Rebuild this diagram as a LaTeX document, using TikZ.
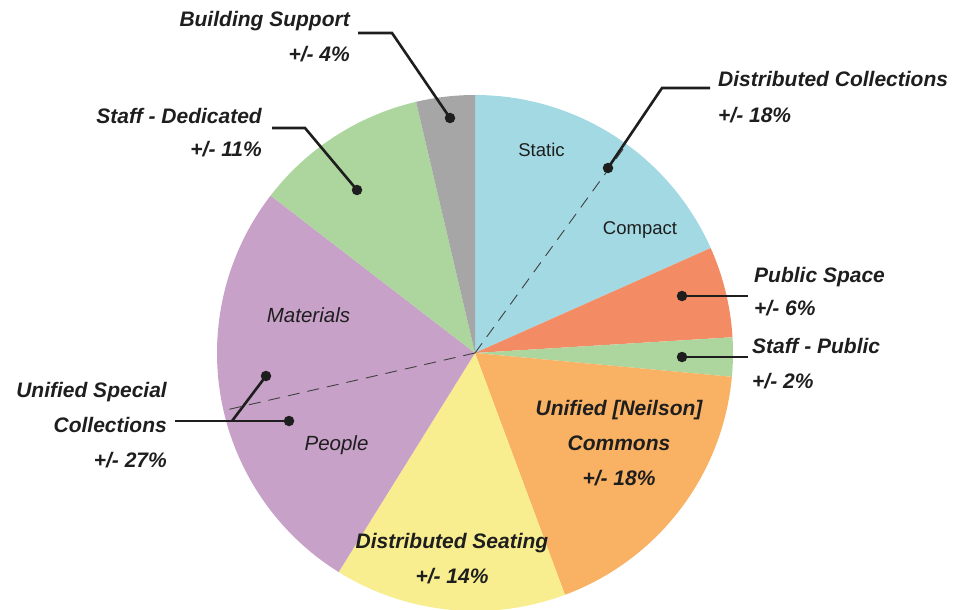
\documentclass[tikz,border=0pt]{standalone}
\usepackage{fontspec}
\setmainfont{Liberation Sans}
\usetikzlibrary{calc}
\definecolor{cblue}{HTML}{A2D9E3}
\definecolor{cgray}{HTML}{A6A6A6}
\definecolor{cgreen}{HTML}{ADD59E}
\definecolor{cpurple}{HTML}{C8A1C8}
\definecolor{cyellow}{HTML}{F8EE8F}
\definecolor{corange}{HTML}{F9B263}
\definecolor{csalmon}{HTML}{F38B64}
\definecolor{ink}{HTML}{1E1E1E}
\newcommand\pieslice[3]{\fill[#3] (C) -- ++(#1:258) arc[start angle=#1,end angle=#2,radius=258] -- cycle;}
\begin{document}
\begin{tikzpicture}[x=1pt,y=-1pt,
  lab/.style={inner sep=0pt,text=ink,font=\fontsize{21}{24}\selectfont\bfseries\itshape},
  inlab/.style={inner sep=0pt,text=ink,font=\fontsize{18.5}{22}\selectfont},
  inlabi/.style={inner sep=0pt,text=ink,font=\fontsize{20.5}{24}\selectfont\itshape},
  lead/.style={draw=ink,line width=2.6pt},
  dot/.style={circle,fill=ink,inner sep=0pt,minimum size=10.5pt},
  divide/.style={draw=ink!85,line width=0.9pt,dash pattern=on 12pt off 8pt}]
\useasboundingbox (0,0) rectangle (962,610);
\coordinate (C) at (475,353);
% slices
\pieslice{-90}{-24}{cblue}
\pieslice{-24}{-3.5}{csalmon}
\pieslice{-3.5}{5.3}{cgreen}
\pieslice{5.3}{69.6}{corange}
\pieslice{69.6}{121.9}{cyellow}
\pieslice{121.9}{217.6}{cpurple}
\pieslice{217.6}{256.8}{cgreen}
\pieslice{256.8}{270}{cgray}
% dashed dividers
\coordinate (dv1) at ($(C)+(-54:258)$);
\coordinate (dv2) at ($(C)+(167.1:256)$);
\draw[divide] (C) -- (dv1);
\draw[divide] (C) -- (dv2);
% inner labels
\node[inlab,anchor=base] (static) at (541.5,157) {Static};
\node[inlab,anchor=base] (compact) at (640,234) {Compact};
\node[inlabi,anchor=base] (materials) at (308.5,322) {Materials};
\node[inlabi,anchor=base] (people) at (336.5,450) {People};
% dot positions
\coordinate (pBS) at (450,118);
\coordinate (pSD) at (357,190);
\coordinate (pDC) at (608,168);
\coordinate (pPS) at (682,296);
\coordinate (pSP) at (682,357);
\coordinate (pM) at (266,376);
\coordinate (pP) at (289,421);
% bends
\coordinate (kBS) at (392,33);
\coordinate (eBS) at (358,33);
\coordinate (kSD) at (305,128);
\coordinate (eSD) at (272,128);
\coordinate (kDC) at (662,88);
\coordinate (eDC) at (710,88);
\coordinate (ePS) at (748,296);
\coordinate (eSP) at (748,357);
\coordinate (eUS) at (175,421);
\coordinate (kUS) at (232,421);
\draw[lead] (pBS) -- (kBS) -- (eBS);
\draw[lead] (pSD) -- (kSD) -- (eSD);
\draw[lead] (pDC) -- (kDC) -- (eDC);
\draw[lead] (pPS) -- (ePS);
\draw[lead] (pSP) -- (eSP);
\draw[lead] (eUS) -- (pP);
\draw[lead] (kUS) -- (pM);
% dots
\node[dot] (dBS) at (pBS) {};
\node[dot] (dSD) at (pSD) {};
\node[dot] (dDC) at (pDC) {};
\node[dot] (dPS) at (pPS) {};
\node[dot] (dSP) at (pSP) {};
\node[dot] (dM) at (pM) {};
\node[dot] (dP) at (pP) {};
% outer labels
\node[lab,anchor=base east] (tBS1) at (350,27) {Building Support};
\node[lab,anchor=base east] (tBS2) at (350,62) {+/- 4\%};
\node[lab,anchor=base east] (tSD1) at (262,123) {Staff - Dedicated};
\node[lab,anchor=base east] (tSD2) at (262,157) {+/- 11\%};
\node[lab,anchor=base west] (tDC1) at (718,87) {Distributed Collections};
\node[lab,anchor=base west] (tDC2) at (718,122) {+/- 18\%};
\node[lab,anchor=base west] (tPS1) at (754,282) {Public Space};
\node[lab,anchor=base west] (tPS2) at (754,315) {+/- 6\%};
\node[lab,anchor=base west] (tSP1) at (752,353) {Staff - Public};
\node[lab,anchor=base west] (tSP2) at (752,388) {+/- 2\%};
\node[lab,anchor=base east] (tUS1) at (167,397) {Unified Special};
\node[lab,anchor=base east] (tUS2) at (167,432) {Collections};
\node[lab,anchor=base east] (tUS3) at (167,467) {+/- 27\%};
\node[lab,anchor=base] (tUC1) at (619,415) {Unified [Neilson]};
\node[lab,anchor=base] (tUC2) at (619,450) {Commons};
\node[lab,anchor=base] (tUC3) at (619,485) {+/- 18\%};
\node[lab,anchor=base] (tDS1) at (452,548) {Distributed Seating};
\node[lab,anchor=base] (tDS2) at (452,583) {+/- 14\%};
\end{tikzpicture}
\end{document}
